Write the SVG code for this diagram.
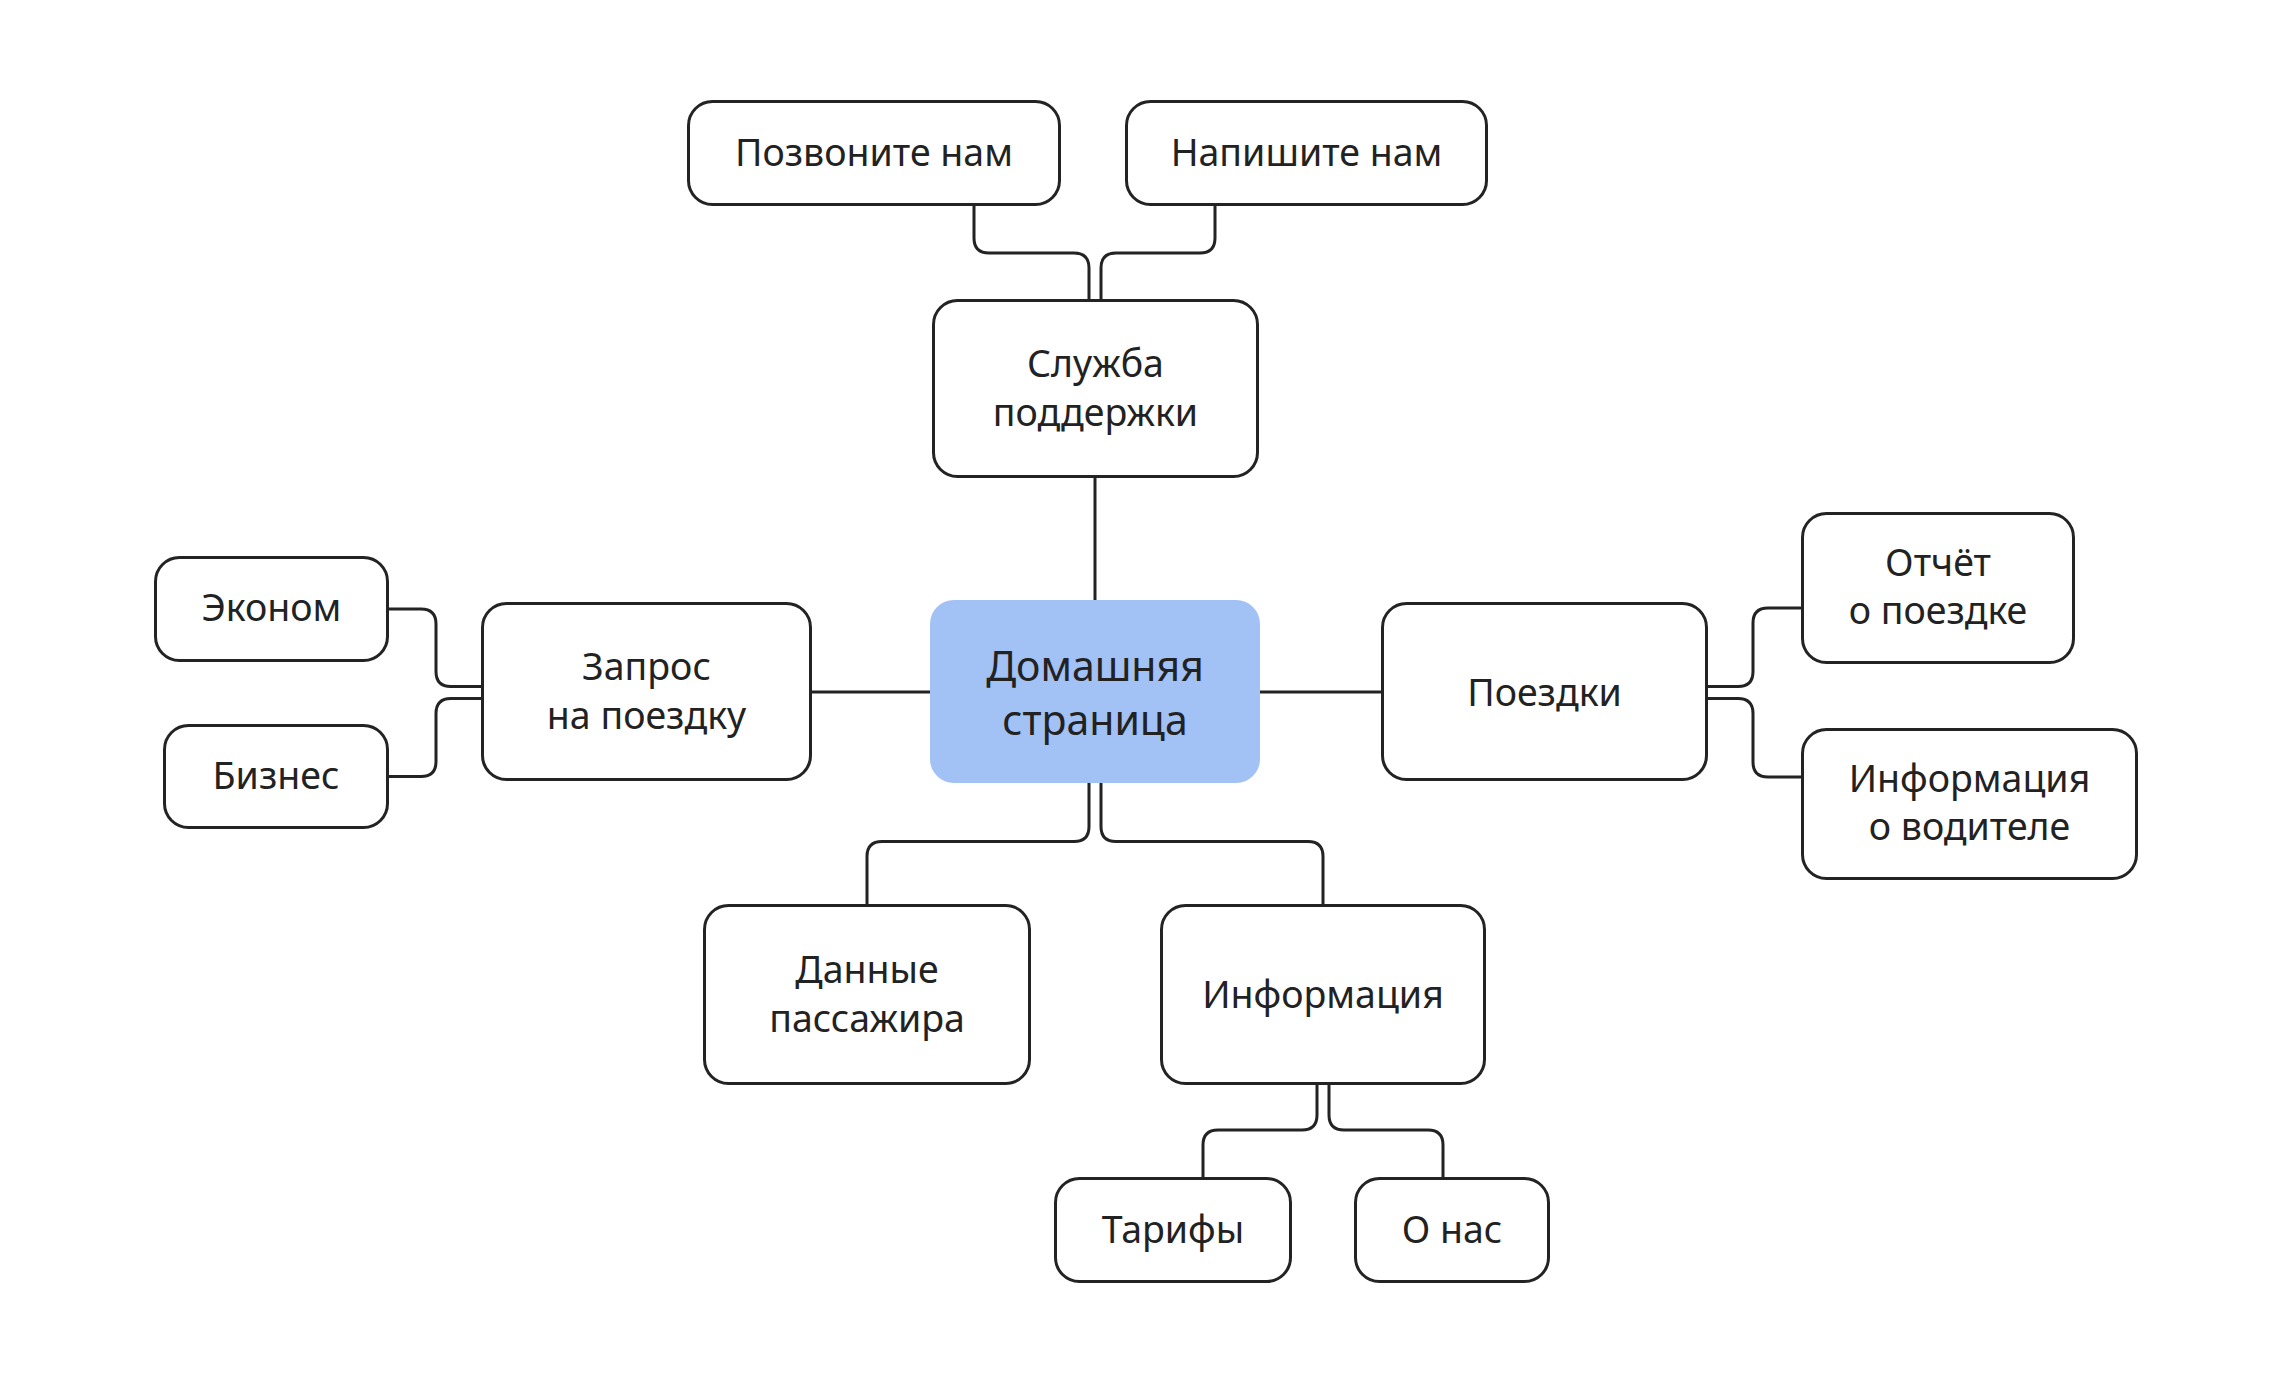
<svg xmlns="http://www.w3.org/2000/svg" width="2292" height="1380" viewBox="0 0 2292 1380">
<style>
.node rect{fill:#ffffff;stroke:#232323;stroke-width:3}
.home rect{fill:#a2c1f5;stroke:none}
text{font-family:"Noto Sans","Open Sans","DejaVu Sans",sans-serif;font-size:37.5px;fill:#222222;text-anchor:middle}
.home text{font-size:41px}
#connectors path{fill:none;stroke:#232323;stroke-width:3}
</style>
<rect x="0" y="0" width="2292" height="1380" fill="#ffffff"/>
<g id="connectors">
<path d="M1095,478 V600"/>
<path d="M1089,299 V268 Q1089,253 1074,253 H989 Q974,253 974,238 V206"/>
<path d="M1101,299 V268 Q1101,253 1116,253 H1200 Q1215,253 1215,238 V206"/>
<path d="M812,692 H930"/>
<path d="M1260,692 H1381"/>
<path d="M481,686.5 H451 Q436,686.5 436,671.5 V624 Q436,609 421,609 H389"/>
<path d="M481,698.5 H451 Q436,698.5 436,713.5 V761.5 Q436,776.5 421,776.5 H389"/>
<path d="M1708,686.5 H1738 Q1753,686.5 1753,671.5 V623 Q1753,608 1768,608 H1801"/>
<path d="M1708,698.5 H1738 Q1753,698.5 1753,713.5 V762 Q1753,777 1768,777 H1801"/>
<path d="M1089,783 V826.5 Q1089,841.5 1074,841.5 H882 Q867,841.5 867,856.5 V904"/>
<path d="M1101,783 V826.5 Q1101,841.5 1116,841.5 H1308 Q1323,841.5 1323,856.5 V904"/>
<path d="M1317,1085 V1115 Q1317,1130 1302,1130 H1218 Q1203,1130 1203,1145 V1177"/>
<path d="M1329,1085 V1115 Q1329,1130 1344,1130 H1428 Q1443,1130 1443,1145 V1177"/>
</g>
<g id="home" class="home">
<rect x="930" y="600" width="330" height="183" rx="24"/>
<text x="1095" y="681">Домашняя</text>
<text x="1095" y="735">страница</text>
</g>
<g id="support" class="node">
<rect x="933.5" y="300.5" width="324" height="176" rx="24"/>
<text x="1095.5" y="377">Служба</text>
<text x="1095.5" y="426">поддержки</text>
</g>
<g id="call" class="node">
<rect x="688.5" y="101.5" width="371" height="103" rx="24"/>
<text x="874" y="166">Позвоните нам</text>
</g>
<g id="write" class="node">
<rect x="1126.5" y="101.5" width="360" height="103" rx="24"/>
<text x="1306.5" y="166">Напишите нам</text>
</g>
<g id="request" class="node">
<rect x="482.5" y="603.5" width="328" height="176" rx="24"/>
<text x="646.5" y="680">Запрос</text>
<text x="646.5" y="729">на поездку</text>
</g>
<g id="econom" class="node">
<rect x="155.5" y="557.5" width="232" height="103" rx="24"/>
<text x="271.5" y="621">Эконом</text>
</g>
<g id="business" class="node">
<rect x="164.5" y="725.5" width="223" height="102" rx="24"/>
<text x="276" y="789">Бизнес</text>
</g>
<g id="trips" class="node">
<rect x="1382.5" y="603.5" width="324" height="176" rx="24"/>
<text x="1544.5" y="705.5">Поездки</text>
</g>
<g id="report" class="node">
<rect x="1802.5" y="513.5" width="271" height="149" rx="24"/>
<text x="1938" y="576">Отчёт</text>
<text x="1938" y="624">о поездке</text>
</g>
<g id="driver" class="node">
<rect x="1802.5" y="729.5" width="334" height="149" rx="24"/>
<text x="1969.5" y="792">Информация</text>
<text x="1969.5" y="840">о водителе</text>
</g>
<g id="passenger" class="node">
<rect x="704.5" y="905.5" width="325" height="178" rx="24"/>
<text x="867" y="982.5">Данные</text>
<text x="867" y="1031.5">пассажира</text>
</g>
<g id="info" class="node">
<rect x="1161.5" y="905.5" width="323" height="178" rx="24"/>
<text x="1323" y="1007.5">Информация</text>
</g>
<g id="tariffs" class="node">
<rect x="1055.5" y="1178.5" width="235" height="103" rx="24"/>
<text x="1173" y="1242.5">Тарифы</text>
</g>
<g id="about" class="node">
<rect x="1355.5" y="1178.5" width="193" height="103" rx="24"/>
<text x="1452" y="1242.5">О нас</text>
</g>
</svg>
